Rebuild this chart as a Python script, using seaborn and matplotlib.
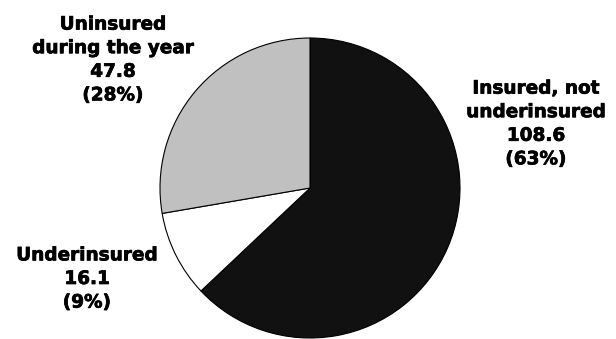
import matplotlib
matplotlib.use("Agg")
import matplotlib.pyplot as plt
import matplotlib.patheffects as pe
import seaborn as sns

categories = ["Insured, not\nunderinsured", "Underinsured", "Uninsured\nduring the year"]
values = [108.6, 16.1, 47.8]
shares = [63, 9, 28]
colors = ["#111111", "#ffffff", "#c0c0c0"]

sns.set_style("white")
plt.rcParams["font.family"] = ["DejaVu Sans"]

fig = plt.figure(figsize=(6.16, 3.39), dpi=100)
# square axes, 300x300 px, pie centred at (310, 188) px
ax = fig.add_axes([160 / 616, 1 / 339, 300 / 616, 300 / 339])

ax.pie(values, colors=colors, startangle=90, counterclock=False,
       wedgeprops=dict(edgecolor="black", linewidth=0.8))
ax.set_xlim(-1.0, 1.0)
ax.set_ylim(-1.0, 1.0)
ax.set_aspect("equal")
ax.axis("off")

# label centres in pixel coords (x, y of the block centre)
label_pos = [(536, 124), (87, 279), (113, 60)]
for cat, val, pct, (px, py) in zip(categories, values, shares, label_pos):
    fig.text(px / 616, 1 - py / 339, f"{cat}\n{val}\n({pct}%)",
             ha="center", va="center", multialignment="center",
             fontsize=13.3, fontweight="bold", linespacing=1.4, color="black",
             path_effects=[pe.withStroke(linewidth=0.5, foreground="black")])

fig.savefig("out.png", dpi=100)
